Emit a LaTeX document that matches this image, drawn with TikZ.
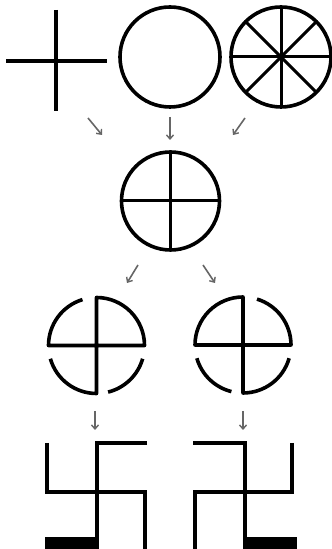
\documentclass[tikz,border=0pt]{standalone}
\usetikzlibrary{arrows.meta}
\begin{document}
\begin{tikzpicture}[x=1pt,y=1pt,
  sym/.style={line width=3.6pt,black,line join=round},
  spoke/.style={line width=3pt,black},
  flow/.style={line width=1.6pt,black!60,-{Straight Barb[length=4pt,width=7pt,line width=1.4pt]}}]
\useasboundingbox (0,0) rectangle (332,549);
% top row
\coordinate (cross) at (56,488);
\coordinate (ring) at (170,492);
\coordinate (wheel) at (281,492);
\draw[sym,line join=miter] (6,488) -- (107,488);
\draw[sym] (56,539) -- (56,438);
\draw[sym] (ring) circle[radius=50];
\draw[sym] (wheel) circle[radius=50];
\foreach \a in {0,45,90,135}
  \draw[spoke] ([shift={(wheel)}]\a:50) -- ([shift={(wheel)}]\a+180:50);
\fill (wheel) circle[radius=3];
% middle
\coordinate (sun) at (170.5,348);
\draw[sym] (sun) circle[radius=49];
\draw[spoke] ([shift={(sun)}]0:49) -- ([shift={(sun)}]180:49);
\draw[spoke] ([shift={(sun)}]90:49) -- ([shift={(sun)}]270:49);
% third row
\coordinate (L) at (96.5,203.5);
\coordinate (R) at (243,204);
\draw[sym] ([shift={(L)}]107:48) arc[start angle=107,end angle=180,radius=48]
  -- ([shift={(L)}]0:48) arc[start angle=0,end angle=90,radius=48]
  -- (L) -- ([shift={(L)}]270:48) arc[start angle=270,end angle=196,radius=48];
\draw[sym] ([shift={(L)}]284:48) arc[start angle=284,end angle=344,radius=48];
\draw[sym] ([shift={(R)}]73:48) arc[start angle=73,end angle=0,radius=48]
  -- ([shift={(R)}]180:48) arc[start angle=180,end angle=90,radius=48]
  -- (R) -- ([shift={(R)}]270:48) arc[start angle=270,end angle=344,radius=48];
\draw[sym] ([shift={(R)}]196:48) arc[start angle=196,end angle=256,radius=48];
% bottom row
\draw[sym,line join=miter] (147,106) -- (97,106) -- (97,8);
\fill (45,0) rectangle (99,12);
\draw[sym,line join=miter] (47,106) -- (47,57) -- (145,57) -- (145,0);
\draw[sym,line join=miter] (193,106) -- (245,106) -- (245,0);
\fill (243,0) rectangle (297,12);
\draw[sym,line join=miter] (292,106) -- (292,57) -- (195,57) -- (195,0);
% arrows
\coordinate (a1s) at (88,431); \coordinate (a1e) at (102,414);
\coordinate (a2s) at (170,432); \coordinate (a2e) at (170,409);
\coordinate (a3s) at (245,431); \coordinate (a3e) at (233,414);
\coordinate (a4s) at (138,284); \coordinate (a4e) at (127,266);
\coordinate (a5s) at (203,284); \coordinate (a5e) at (215,266);
\coordinate (a6s) at (95,138); \coordinate (a6e) at (95,119);
\coordinate (a7s) at (243,138); \coordinate (a7e) at (243,119);
\foreach \i in {1,...,7} \draw[flow] (a\i s) -- (a\i e);
\end{tikzpicture}
\end{document}
